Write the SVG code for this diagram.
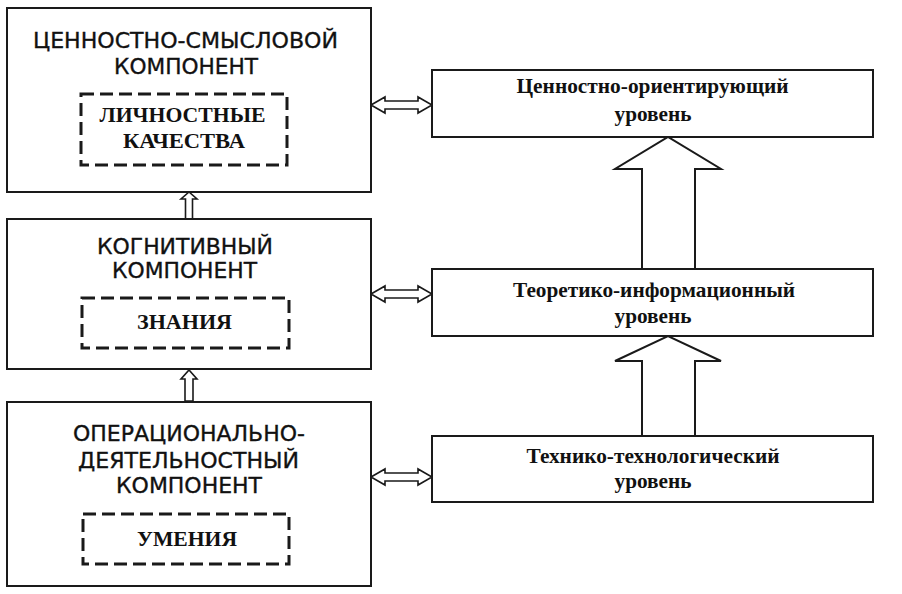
<svg xmlns="http://www.w3.org/2000/svg" width="902" height="594" viewBox="0 0 902 594">
<style>
.box{fill:#fff;stroke:#1a1a1a;stroke-width:2}
.dash{fill:none;stroke:#1a1a1a;stroke-width:3;stroke-dasharray:13 6}
.arr{fill:#fff;stroke:#1a1a1a;stroke-width:1.6;stroke-linejoin:miter}
.big{fill:#fff;stroke:#1a1a1a;stroke-width:2}
.t1{font-family:"DejaVu Sans",Verdana,sans-serif;font-size:22px;fill:#111;stroke:#111;stroke-width:0.35;text-anchor:middle}
.t2{font-family:"Liberation Serif","Times New Roman",serif;font-weight:bold;font-size:20px;fill:#111;text-anchor:middle}
.t3{font-family:"Liberation Serif","Times New Roman",serif;font-weight:bold;font-size:21px;fill:#111;text-anchor:middle}
</style>
<rect width="902" height="594" fill="#fff"/>
<g id="connectors">
<polygon class="big" points="642,269 642,169 615,169 668,137 721,169 695,169 695,269"/>
<polygon class="big" points="642,436 642,361 615,361 668,336 721,361 695,361 695,436"/>
<polygon class="arr" points="371,105 385,97 385,101 418,101 418,97 432,105 418,113 418,109 385,109 385,113"/>
<polygon class="arr" points="371,294 385,286 385,290 418,290 418,286 432,294 418,302 418,298 385,298 385,302"/>
<polygon class="arr" points="371,477 385,469 385,473 418,473 418,469 432,477 418,485 418,481 385,481 385,485"/>
<polygon class="arr" points="185.5,219 185.5,199 181,199 189,192 197,199 192.5,199 192.5,219"/>
<polygon class="arr" points="185,401 185,379 181,379 189,370 197,379 193,379 193,401"/>
</g>
<g id="value-component">
<rect class="box" x="7" y="8" width="364" height="184"/>
<text class="t1" x="185.5" y="48" textLength="305" lengthAdjust="spacingAndGlyphs">ЦЕННОСТНО-СМЫСЛОВОЙ</text>
<text class="t1" x="186" y="74" textLength="144" lengthAdjust="spacingAndGlyphs">КОМПОНЕНТ</text>
</g>
<g id="personal-qualities">
<rect class="dash" x="81" y="94" width="206" height="71"/>
<text class="t2" x="182.5" y="122" textLength="166" lengthAdjust="spacingAndGlyphs">ЛИЧНОСТНЫЕ</text>
<text class="t2" x="184" y="148" textLength="122" lengthAdjust="spacingAndGlyphs">КАЧЕСТВА</text>
</g>
<g id="cognitive-component">
<rect class="box" x="7" y="219" width="364" height="150"/>
<text class="t1" x="185" y="254" textLength="176" lengthAdjust="spacingAndGlyphs">КОГНИТИВНЫЙ</text>
<text class="t1" x="184.5" y="278" textLength="145" lengthAdjust="spacingAndGlyphs">КОМПОНЕНТ</text>
</g>
<g id="knowledge">
<rect class="dash" x="82" y="298" width="207" height="50"/>
<text class="t2" x="184.5" y="329" textLength="95" lengthAdjust="spacingAndGlyphs">ЗНАНИЯ</text>
</g>
<g id="operational-component">
<rect class="box" x="7" y="402" width="364" height="184"/>
<text class="t1" x="189" y="441" textLength="232" lengthAdjust="spacingAndGlyphs">ОПЕРАЦИОНАЛЬНО-</text>
<text class="t1" x="188.5" y="468" textLength="221" lengthAdjust="spacingAndGlyphs">ДЕЯТЕЛЬНОСТНЫЙ</text>
<text class="t1" x="189" y="493" textLength="146" lengthAdjust="spacingAndGlyphs">КОМПОНЕНТ</text>
</g>
<g id="skills">
<rect class="dash" x="83" y="514" width="206" height="50"/>
<text class="t2" x="187" y="546" textLength="100" lengthAdjust="spacingAndGlyphs">УМЕНИЯ</text>
</g>
<g id="value-level">
<rect class="box" x="432" y="70" width="441" height="67"/>
<text class="t3" x="652.5" y="93" textLength="272" lengthAdjust="spacingAndGlyphs">Ценностно-ориентирующий</text>
<text class="t3" x="653" y="121" textLength="77" lengthAdjust="spacingAndGlyphs">уровень</text>
</g>
<g id="theory-level">
<rect class="box" x="432" y="269" width="441" height="67"/>
<text class="t3" x="654" y="297" textLength="282" lengthAdjust="spacingAndGlyphs">Теоретико-информационный</text>
<text class="t3" x="653" y="323" textLength="77" lengthAdjust="spacingAndGlyphs">уровень</text>
</g>
<g id="tech-level">
<rect class="box" x="432" y="436" width="441" height="66"/>
<text class="t3" x="653" y="463" textLength="253" lengthAdjust="spacingAndGlyphs">Технико-технологический</text>
<text class="t3" x="653" y="488" textLength="77" lengthAdjust="spacingAndGlyphs">уровень</text>
</g>
</svg>
